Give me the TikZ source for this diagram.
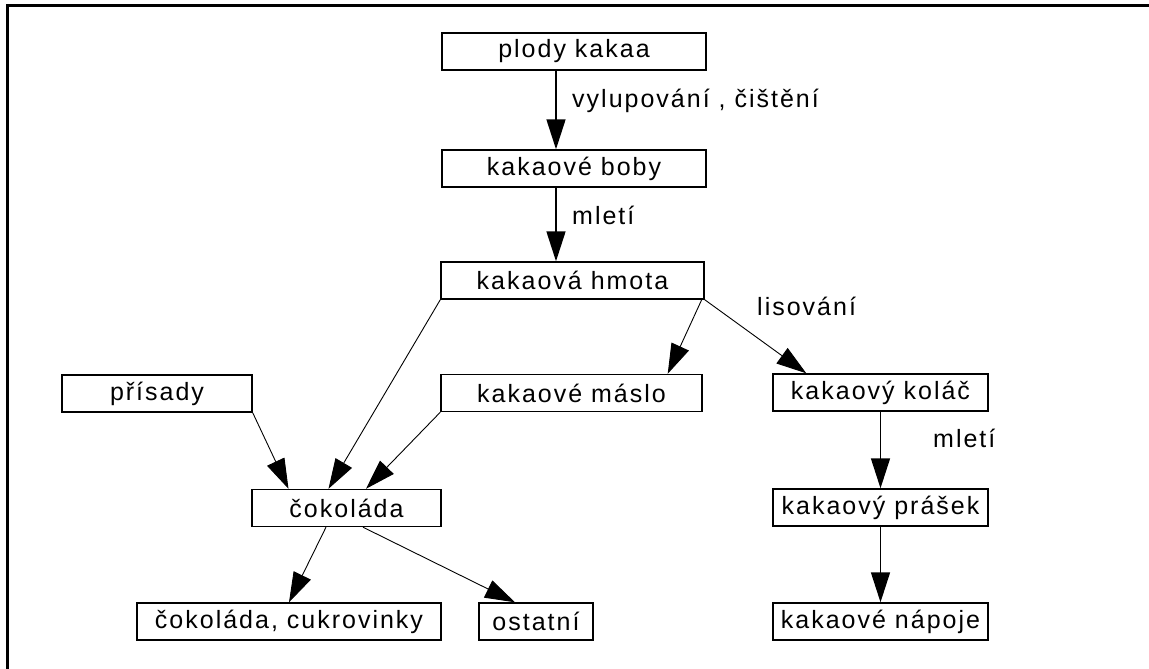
\documentclass[tikz,border=0pt]{standalone}
\usepackage{fontspec}
\setmainfont{Liberation Sans}[LetterSpace=8]
\usetikzlibrary{arrows.meta,calc}
\begin{document}
\begin{tikzpicture}[x=1pt,y=-1pt,
  box/.style={draw,line width=1.4pt,inner sep=0pt,minimum height=37pt,font=\fontsize{25}{29}\selectfont},
  lbl/.style={anchor=base west,inner sep=0pt,font=\fontsize{25}{29}\selectfont},
  arr/.style={-{Triangle[length=30pt,width=19pt]},line width=1.5pt},
  darr/.style={-{Triangle[length=30pt,width=19pt]},line width=0.9pt}]
\useasboundingbox (0,0) rectangle (1149,669);
\draw[line width=3pt] (7,669) -- (7,6) -- (1149,6);

\node[box,minimum width=264pt] (plody) at (574,51.5) {plody kakaa};
\node[box,minimum width=264pt] (boby) at (574,168.5) {kakaové boby};
\node[box,minimum width=263pt] (hmota) at (572.5,280.5) {kakaová hmota};
\node[box,minimum width=190pt] (prisady) at (157,393.5) {přísady};
\node[box,minimum width=261pt] (maslo) at (571.5,393) {kakaové máslo};
\node[box,minimum width=215pt] (kolac) at (880.5,392.5) {kakaový koláč};
\node[box,minimum width=189pt] (cokolada) at (346.5,508) {čokoláda};
\node[box,minimum width=304pt] (cukr) at (289,621.5) {čokoláda, cukrovinky};
\node[box,minimum width=114pt] (ostatni) at (536,621.5) {ostatní};
\node[box,minimum width=215pt] (prasek) at (880.5,507.5) {kakaový prášek};
\node[box,minimum width=215pt] (napoje) at (880.5,621.5) {kakaové nápoje};

\draw[arr] ([xshift=-18pt]plody.south) -- ([xshift=-18pt]boby.north);
\draw[arr] ([xshift=-18pt]boby.south) -- ([xshift=-18pt]boby.south |- hmota.north);
\draw[darr] (hmota.south west) -- ([xshift=-18pt]cokolada.north);
\draw[darr] (prisady.south east) -- ([xshift=-58pt]cokolada.north);
\draw[darr] (maslo.south west) -- ([xshift=19.5pt]cokolada.north);
\draw[darr] ([xshift=-3pt]hmota.south east) -- ([xshift=-35pt]maslo.north east);
\draw[darr] (hmota.south east) -- ([xshift=34pt]kolac.north west);
\draw[arr] (kolac.south) -- (prasek.north);
\draw[arr] (prasek.south) -- (napoje.north);
\draw[darr] ([xshift=-20.5pt]cokolada.south) -- (cukr.north);
\draw[darr] ([xshift=16.5pt]cokolada.south) -- ([xshift=-21pt]ostatni.north);

\node[lbl] (l1) at (572,107) {vylupování , čištění};
\node[lbl] (l2) at (572,224) {mletí};
\node[lbl] (l3) at (757,315) {lisování};
\node[lbl] (l4) at (933,447) {mletí};
\end{tikzpicture}
\end{document}
